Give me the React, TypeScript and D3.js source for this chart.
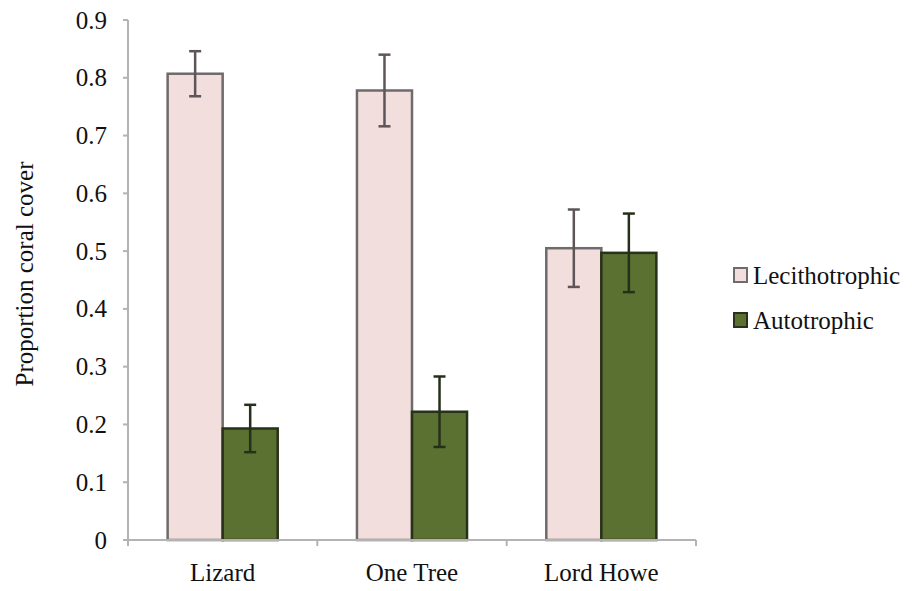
import React from "react";
import * as d3 from "d3";

// Sites and series
const sites = ["Lizard", "One Tree", "Lord Howe"];
const seriesNames = ["Lecithotrophic", "Autotrophic"];

// Mean proportion coral cover per site
const lecithotrophic = [0.807, 0.778, 0.505];
const autotrophic = [0.193, 0.222, 0.497];

// Error bar half-widths
const lecithotrophicErr = [0.039, 0.062, 0.067];
const autotrophicErr = [0.041, 0.061, 0.068];

const yTicks = [0, 0.1, 0.2, 0.3, 0.4, 0.5, 0.6, 0.7, 0.8, 0.9];

const W = 912;
const H = 591;
const left = 128;
const right = 696;
const top = 20;
const bottom = 540;

const fills = ["#F2DEDC", "#5B7131"];
const strokes = ["#6F6A6B", "#28321A"];
const errColors = ["#5E5558", "#25301A"];
const font = '"Liberation Serif", "Times New Roman", "DejaVu Serif", serif';

export default function App() {
  const y = d3.scaleLinear().domain([0, 0.9]).range([bottom, top]);
  const x0 = d3.scaleBand<string>().domain(sites).range([left, right]).paddingInner(0).paddingOuter(0);
  const x1 = d3
    .scaleBand<string>()
    .domain(seriesNames)
    .range([0, x0.bandwidth()])
    .paddingInner(0)
    .paddingOuter(0.72);

  const values = [lecithotrophic, autotrophic];
  const errs = [lecithotrophicErr, autotrophicErr];
  const axisColor = "#B3B3B3";

  const xTickPositions = [...sites.map((s) => x0(s) as number), right];
  const textStyle = { fontFamily: font };

  return (
    <svg
      width={W}
      height={H}
      style={{ position: "absolute", left: 0, top: 0, background: "#fff", fontFamily: font }}
    >
      {/* y axis */}
      <line x1={left} x2={left} y1={top} y2={bottom} stroke={axisColor} strokeWidth={2} />
      {yTicks.map((t) => (
        <g key={t}>
          <line x1={left - 5} x2={left} y1={y(t)} y2={y(t)} stroke={axisColor} strokeWidth={2} />
          <text
            x={107}
            y={y(t)}
            textAnchor="end"
            dominantBaseline="central"
            fontSize={25}
            fill="#111"
            style={textStyle}
          >
            {t === 0 ? "0" : t.toFixed(1)}
          </text>
        </g>
      ))}
      <text
        transform="translate(24, 274) rotate(-90)"
        textAnchor="middle"
        dominantBaseline="central"
        fontSize={25}
        fill="#111"
        style={textStyle}
      >
        Proportion coral cover
      </text>

      {/* bars */}
      {sites.map((site, i) =>
        seriesNames.map((s, k) => {
          const bx = (x0(site) as number) + (x1(s) as number);
          const bw = x1.bandwidth();
          const v = values[k][i];
          return (
            <rect
              key={site + s}
              x={bx}
              y={y(v)}
              width={bw}
              height={bottom - y(v)}
              fill={fills[k]}
              stroke={strokes[k]}
              strokeWidth={2.5}
            />
          );
        })
      )}

      {/* error bars */}
      {sites.map((site, i) =>
        seriesNames.map((s, k) => {
          const cx = (x0(site) as number) + (x1(s) as number) + x1.bandwidth() / 2;
          const v = values[k][i];
          const e = errs[k][i];
          const yHi = y(v + e);
          const yLo = y(v - e);
          return (
            <g key={"e" + site + s} stroke={errColors[k]} strokeWidth={2.5}>
              <line x1={cx} x2={cx} y1={yHi} y2={yLo} />
              <line x1={cx - 6} x2={cx + 6} y1={yHi} y2={yHi} />
              <line x1={cx - 6} x2={cx + 6} y1={yLo} y2={yLo} />
            </g>
          );
        })
      )}

      {/* x axis */}
      <line x1={left} x2={right} y1={bottom} y2={bottom} stroke={axisColor} strokeWidth={2} />
      {xTickPositions.map((px, i) => (
        <line key={i} x1={px} x2={px} y1={bottom} y2={bottom + 6} stroke={axisColor} strokeWidth={2} />
      ))}
      {sites.map((site) => (
        <text
          key={site}
          x={(x0(site) as number) + x0.bandwidth() / 2}
          y={581}
          textAnchor="middle"
          fontSize={25}
          fill="#111"
          style={textStyle}
        >
          {site}
        </text>
      ))}

      {/* legend */}
      {seriesNames.map((s, k) => (
        <g key={s} transform={`translate(734, ${268 + k * 45})`}>
          <rect x={0} y={0} width={13} height={14} fill={fills[k]} stroke={strokes[k]} strokeWidth={2} />
          <text x={19} y={7.5} dominantBaseline="central" fontSize={25} fill="#111" style={textStyle}>
            {s}
          </text>
        </g>
      ))}
    </svg>
  );
}
